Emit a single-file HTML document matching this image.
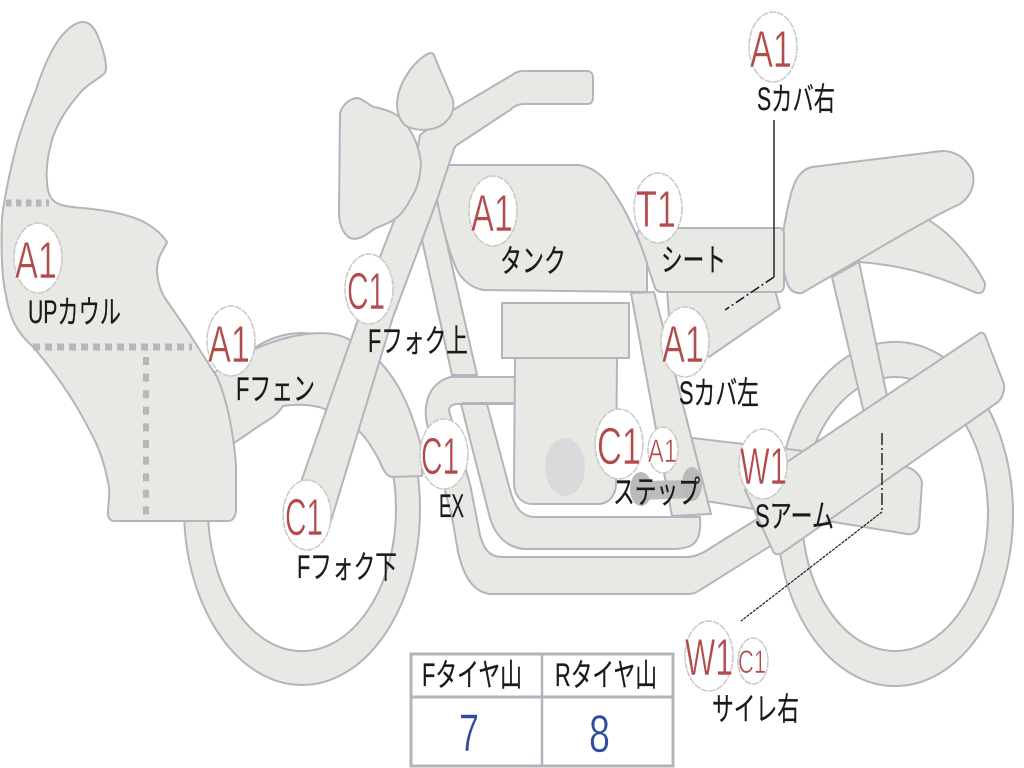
<!DOCTYPE html>
<html lang="ja">
<head>
<meta charset="utf-8">
<title>Bike diagram</title>
<style>
html,body{margin:0;padding:0;background:#fff;width:1024px;height:768px;overflow:hidden}
svg{display:block}
.p{fill:#e8e9e5;stroke:#b2b5bb;stroke-width:2;stroke-linejoin:round}
.b{fill:#fff;stroke:#c8c8c8;stroke-width:1.5;stroke-dasharray:7 1}
.r{fill:#b24c4c;stroke:#fff;stroke-width:.6;font-family:"Liberation Sans",sans-serif}
.k{fill:#1a1a1a;stroke:#1a1a1a;stroke-width:.25;font-family:"Liberation Sans","Noto Sans CJK JP",sans-serif;font-size:32px}
.n{fill:#2f4d9c;stroke:#fff;stroke-width:.5;font-family:"Liberation Sans",sans-serif;font-size:53px}
</style>
</head>
<body>
<svg width="1024" height="768" viewBox="0 0 1024 768" xmlns="http://www.w3.org/2000/svg">
<rect width="1024" height="768" fill="#fff"/>

<!-- rear wheel -->
<path class="p" fill-rule="evenodd" d="M777,514a118,172 0 1,0 236,0a118,172 0 1,0 -236,0ZM802,514a93,137 0 1,1 186,0a93,137 0 1,1 -186,0Z"/>
<!-- rear shock -->
<path class="p" d="M832,277L868,430L892,420L859,262Z"/>
<!-- tail -->
<path class="p" d="M925,218C950,232 972,258 985,283C985,291 982,294 977,293C950,282 915,266 859,262L850,240Z"/>
<!-- seat -->
<path class="p" d="M812,167L942,151C955,151 965,157 972,170C976,182 972,196 960,204C940,213 925,222 905,233L802,293C795,294 790,291 787,283C781,265 781,245 784,227C788,205 792,185 798,177C802,171 807,168 812,167Z"/>
<!-- side cover -->
<path class="p" d="M667,290L775,290L780,308L709,357L670,330Z"/>
<!-- seat rail -->
<path class="p" d="M637,235L640,228L779,228C783,228 784,231 784,234L784,285C784,290 782,292 778,292L662,292C658,292 656,290 655,288Z"/>

<!-- exhaust -->
<path class="p" d="M450,377L516,377L516,404L456,404C449,405 448,410 450,414L470,484L480,535C484,550 490,557 502,557L689,557C698,556 705,552 712,547L762,516L780,540L700,590C696,593 692,594 688,594L490,594C474,592 464,578 458,552L452,517L428,428C423,410 425,385 450,377Z"/>
<!-- frame tube -->
<path class="p" d="M461,404L487,404L510,490C515,508 522,517 535,517L700,517C701,530 699,542 690,546C685,548 680,549 674,549L524,549C505,547 495,534 490,518Z"/>
<!-- front frame strip -->
<path class="p" d="M437,200L422,240L452,375L477,375Z"/>
<!-- engine -->
<rect class="p" x="502" y="303" width="127" height="55"/>
<path class="p" d="M515,358L617,358L616,485C615,498 607,504 598,504L532,504C522,504 514,496 514,483Z"/>
<ellipse cx="565" cy="467" rx="20" ry="29" fill="#d9dadb"/>
<path d="M462,403L514,403" stroke="#b2b5bb" stroke-width="2" fill="none"/>

<!-- swingarm -->
<path class="p" d="M675,436L812,452L905,467C912,467 921,475 922,483L919,527C917,533 912,535 907,534L700,500Z"/>
<!-- rear frame strip -->
<path class="p" d="M631,293L654,292L711,514L672,516Z"/>
<!-- step -->
<path d="M641,481L692,480L692,498L641,500Z" fill="#bcbdbe"/>
<ellipse cx="641" cy="489" rx="11" ry="17" fill="#b9babb"/>
<ellipse cx="692" cy="484" rx="10" ry="17" fill="#b9babb"/>
<!-- muffler -->
<path class="p" d="M745,490L980,333C983,332 985,334 986,338L1004,384C1005,391 1002,398 998,402L782,553C778,555 775,555 773,551Z"/>

<!-- front wheel -->
<path class="p" fill-rule="evenodd" d="M184,509a118,176 0 1,0 236,0a118,176 0 1,0 -236,0ZM208,509a94,142 0 1,1 188,0a94,142 0 1,1 -188,0Z"/>
<!-- fender -->
<path class="p" d="M215,372C255,342 320,322 350,340C395,362 412,410 422,450L422,476L392,477C385,476 383,468 378,458C372,448 368,440 360,432L325,409C312,404 295,404 283,406C278,414 272,418 262,424L215,456Z"/>
<!-- cowl -->
<path class="p" d="M83,22C90,22 94,28 97,34C102,46 106,58 106,68C106,73 103,75 100,77C90,84 84,88 80,93C65,110 54,128 50,148C47,160 46,175 47,180C47,190 49,197 54,201C60,206 70,207 82,208C105,210 122,213 140,220C152,226 160,232 167,242C164,250 158,255 157,268C157,280 160,290 165,298L187,330L217,377C225,395 232,420 236,464L236,511C235,518 232,521 228,521L115,521C110,521 108,518 108,513C108,505 110,495 109,487C105,465 100,450 93,437C75,400 55,372 33,347C20,335 10,322 6,295C2,280 1,250 2,217C5,195 10,170 18,140C24,120 30,105 36,90C42,70 52,48 60,38C68,28 76,22 83,22Z"/>
<path d="M6,203H49" stroke="#b5b7bd" stroke-width="7" stroke-dasharray="5.5 4.5" fill="none"/>
<path d="M33,347H192" stroke="#b5b7bd" stroke-width="7" stroke-dasharray="7 5" fill="none"/>
<path d="M146,357V515" stroke="#b5b7bd" stroke-width="6" stroke-dasharray="8 8.6" fill="none"/>

<!-- tank -->
<path class="p" d="M447,165L579,165C592,167 605,176 612,190C625,208 640,240 647,263L647,292L483,290C472,288 462,280 457,270C448,250 442,225 437,200C438,185 441,172 447,165Z"/>
<!-- handlebar + fork (one outline) -->
<path class="p" d="M420,135L453,110L512,75C516,72 519,71 524,71L587,71C591,71 593,74 593,78L593,97C593,102 591,104 587,104L524,104C519,104 514,106 510,110L457,145C455,146 455,147 454,149L437,200L393,317L330,524L316,530L302,479L380,257L397,213L418,147Z"/>
<!-- headlight -->
<path class="p" d="M358,98C365,100 368,105 374,107C388,110 395,113 400,118C410,128 418,140 421,163C420,178 418,188 410,200C405,210 398,218 390,222C382,226 374,228 370,232C362,238 356,240 350,238C343,234 339,224 339,213L340,113C343,104 350,98 358,98Z"/>
<!-- meter -->
<path class="p" d="M430,53C433,53 434,54 435,58L453,100C455,112 450,120 440,126C430,131 418,131 408,127C400,123 397,113 397,103C398,90 403,80 410,70C416,62 424,55 430,53Z"/>

<!-- leaders -->
<path d="M774,120V277" stroke="#1a1a1a" stroke-width="1.4" fill="none"/>
<path d="M774,277L725,310" stroke="#1a1a1a" stroke-width="1.6" stroke-dasharray="10 3 2 3" fill="none"/>
<path d="M882,433V512" stroke="#1a1a1a" stroke-width="1.4" stroke-dasharray="12 3 2 3" fill="none"/>
<path d="M882,512L741,621" stroke="#1a1a1a" stroke-width="1.2" stroke-dasharray="3 1" fill="none"/>

<!-- bubbles -->
<ellipse class="b" cx="38" cy="258" rx="24" ry="35"/>
<ellipse class="b" cx="231" cy="341" rx="24" ry="35"/>
<ellipse class="b" cx="369" cy="289" rx="24" ry="35"/>
<ellipse class="b" cx="493" cy="211" rx="24" ry="35"/>
<ellipse class="b" cx="658" cy="208" rx="24" ry="35"/>
<ellipse class="b" cx="773" cy="47" rx="24" ry="35"/>
<ellipse class="b" cx="685" cy="342" rx="24" ry="35"/>
<ellipse class="b" cx="444" cy="454" rx="24" ry="35"/>
<ellipse class="b" cx="307" cy="515" rx="24" ry="35"/>
<ellipse class="b" cx="619" cy="444" rx="24" ry="35"/>
<ellipse class="b" cx="663" cy="450" rx="15" ry="23"/>
<ellipse class="b" cx="763" cy="464" rx="24" ry="35"/>
<ellipse class="b" cx="709" cy="656" rx="24" ry="35"/>
<ellipse class="b" cx="753" cy="661" rx="15" ry="23"/>

<!-- codes -->
<g class="r" font-size="52">
<text x="15" y="278" textLength="42" lengthAdjust="spacingAndGlyphs">A1</text>
<text x="208" y="362" textLength="42" lengthAdjust="spacingAndGlyphs">A1</text>
<text x="347" y="309" textLength="38" lengthAdjust="spacingAndGlyphs">C1</text>
<text x="471" y="231" textLength="42" lengthAdjust="spacingAndGlyphs">A1</text>
<text x="636" y="227" textLength="40" lengthAdjust="spacingAndGlyphs">T1</text>
<text x="750" y="67" textLength="42" lengthAdjust="spacingAndGlyphs">A1</text>
<text x="662" y="362" textLength="42" lengthAdjust="spacingAndGlyphs">A1</text>
<text x="421" y="474" textLength="38" lengthAdjust="spacingAndGlyphs">C1</text>
<text x="285" y="535" textLength="38" lengthAdjust="spacingAndGlyphs">C1</text>
<text x="597" y="464" textLength="44" lengthAdjust="spacingAndGlyphs">C1</text>
<text x="740" y="484" textLength="47" lengthAdjust="spacingAndGlyphs">W1</text>
<text x="685" y="675" textLength="48" lengthAdjust="spacingAndGlyphs">W1</text>
</g>
<g class="r" font-size="32">
<text x="648" y="462" textLength="29" lengthAdjust="spacingAndGlyphs">A1</text>
<text x="738" y="673" textLength="28" lengthAdjust="spacingAndGlyphs">C1</text>
</g>

<!-- table -->
<rect x="411" y="654" width="262" height="112" fill="#fff" stroke="#b0b4bd" stroke-width="3"/>
<path d="M411,697H673" stroke="#b0b4bd" stroke-width="3" fill="none"/>
<path d="M542,654V766" stroke="#b0b4bd" stroke-width="2.5" fill="none"/>
<text class="n" x="459" y="751" textLength="20" lengthAdjust="spacingAndGlyphs">7</text>
<text class="n" x="589" y="752" textLength="21" lengthAdjust="spacingAndGlyphs">8</text>

<!-- labels -->
<g class="k">
<text x="28" y="323" textLength="93" lengthAdjust="spacingAndGlyphs">UPカウル</text>
<text x="236" y="400" textLength="79" lengthAdjust="spacingAndGlyphs">Fフェン</text>
<text x="368" y="352" textLength="100" lengthAdjust="spacingAndGlyphs">Fフォク上</text>
<text x="500" y="272" textLength="66" lengthAdjust="spacingAndGlyphs">タンク</text>
<text x="661" y="271" textLength="65" lengthAdjust="spacingAndGlyphs">シート</text>
<text x="757" y="110" textLength="78" lengthAdjust="spacingAndGlyphs">Sカバ右</text>
<text x="679" y="404" textLength="80" lengthAdjust="spacingAndGlyphs">Sカバ左</text>
<text x="439" y="517" textLength="25" lengthAdjust="spacingAndGlyphs">EX</text>
<text x="297" y="578" textLength="100" lengthAdjust="spacingAndGlyphs">Fフォク下</text>
<text x="613" y="503" textLength="87" lengthAdjust="spacingAndGlyphs">ステップ</text>
<text x="755" y="527" textLength="79" lengthAdjust="spacingAndGlyphs">Sアーム</text>
<text x="712" y="720" textLength="87" lengthAdjust="spacingAndGlyphs">サイレ右</text>
<text x="422" y="686" textLength="100" lengthAdjust="spacingAndGlyphs">Fタイヤ山</text>
<text x="555" y="686" textLength="102" lengthAdjust="spacingAndGlyphs">Rタイヤ山</text>
</g>
</svg>
</body>
</html>
